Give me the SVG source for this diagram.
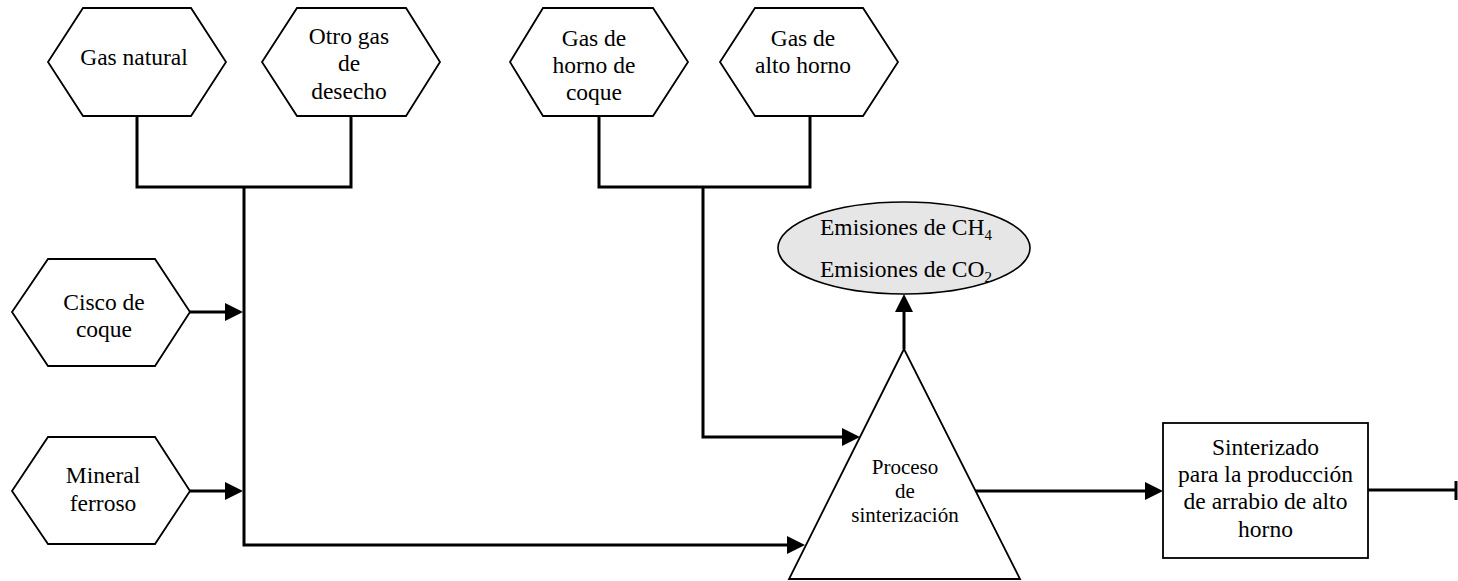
<svg xmlns="http://www.w3.org/2000/svg" width="1458" height="581" viewBox="0 0 1458 581">
<style>
.shape{fill:#fff;stroke:#000;stroke-width:1.8;stroke-linejoin:miter}
.t{font-family:"Liberation Serif","Times New Roman",serif;font-size:23.5px;fill:#000;text-anchor:middle}
.ts{font-family:"Liberation Serif","Times New Roman",serif;font-size:21px;fill:#000;text-anchor:middle}
.te{font-family:"Liberation Serif","Times New Roman",serif;font-size:23.5px;fill:#000}
.c{fill:none;stroke:#000;stroke-width:3}
</style>
<defs>
<marker id="ah" markerUnits="userSpaceOnUse" markerWidth="18" markerHeight="18" refX="10" refY="9" orient="auto">
<path d="M0,0 L18,9 L0,18 z" fill="#000"/>
</marker>
</defs>
<rect width="1458" height="581" fill="#fff"/>
<g id="connectors">
<path class="c" d="M137,116 V187 H351 V116"/>
<path class="c" d="M244,187 V545 H797" marker-end="url(#ah)"/>
<path class="c" d="M190,312 H235" marker-end="url(#ah)"/>
<path class="c" d="M190,491 H235" marker-end="url(#ah)"/>
<path class="c" d="M599,116 V187 H810 V116"/>
<path class="c" d="M703,187 V437 H852" marker-end="url(#ah)"/>
<path class="c" d="M904,349 V302" marker-end="url(#ah)"/>
<path class="c" d="M975,491 H1155" marker-end="url(#ah)"/>
<path class="c" d="M1368,490 H1456 M1456,481 V500"/>
</g>
<g id="gas-natural">
<polygon class="shape" points="48,62 83,8 191,8 226,62 191,116 83,116"/>
<text class="t" x="134" y="65">Gas natural</text>
</g>
<g id="otro-gas">
<polygon class="shape" points="262,62 297,8 406,8 440,62 406,116 297,116"/>
<text class="t" x="349" y="44">Otro gas</text>
<text class="t" x="349" y="71">de</text>
<text class="t" x="349" y="99">desecho</text>
</g>
<g id="gas-horno-coque">
<polygon class="shape" points="510,62 543,8 653,8 688,62 653,116 543,116"/>
<text class="t" x="594" y="46">Gas de</text>
<text class="t" x="594" y="73">horno de</text>
<text class="t" x="594" y="100">coque</text>
</g>
<g id="gas-alto-horno">
<polygon class="shape" points="720,62 755,8 863,8 898,62 863,116 755,116"/>
<text class="t" x="803" y="46">Gas de</text>
<text class="t" x="803" y="73">alto horno</text>
</g>
<g id="cisco-coque">
<polygon class="shape" points="12,312 48,259 155,259 190,312 155,366 48,366"/>
<text class="t" x="104" y="310">Cisco de</text>
<text class="t" x="104" y="337">coque</text>
</g>
<g id="mineral-ferroso">
<polygon class="shape" points="12,491 48,437 155,437 190,491 155,544 48,544"/>
<text class="t" x="103" y="483">Mineral</text>
<text class="t" x="103" y="511">ferroso</text>
</g>
<g id="emisiones">
<ellipse cx="904" cy="248" rx="126" ry="46" fill="#e6e6e6" stroke="#000" stroke-width="1.6"/>
<text class="te" x="820" y="235">Emisiones de CH<tspan font-size="15" dy="5">4</tspan></text>
<text class="te" x="820" y="277">Emisiones de CO<tspan font-size="15" dy="5">2</tspan></text>
</g>
<g id="proceso">
<polygon class="shape" points="904,349 789,579 1020,579"/>
<text class="ts" x="905" y="474">Proceso</text>
<text class="ts" x="905" y="498">de</text>
<text class="ts" x="905" y="522">sinterización</text>
</g>
<g id="sinterizado">
<rect class="shape" x="1163" y="423" width="205" height="135"/>
<text class="t" x="1265.5" y="455">Sinterizado</text>
<text class="t" x="1265.5" y="482">para la producción</text>
<text class="t" x="1265.5" y="509">de arrabio de alto</text>
<text class="t" x="1265.5" y="537">horno</text>
</g>
</svg>
